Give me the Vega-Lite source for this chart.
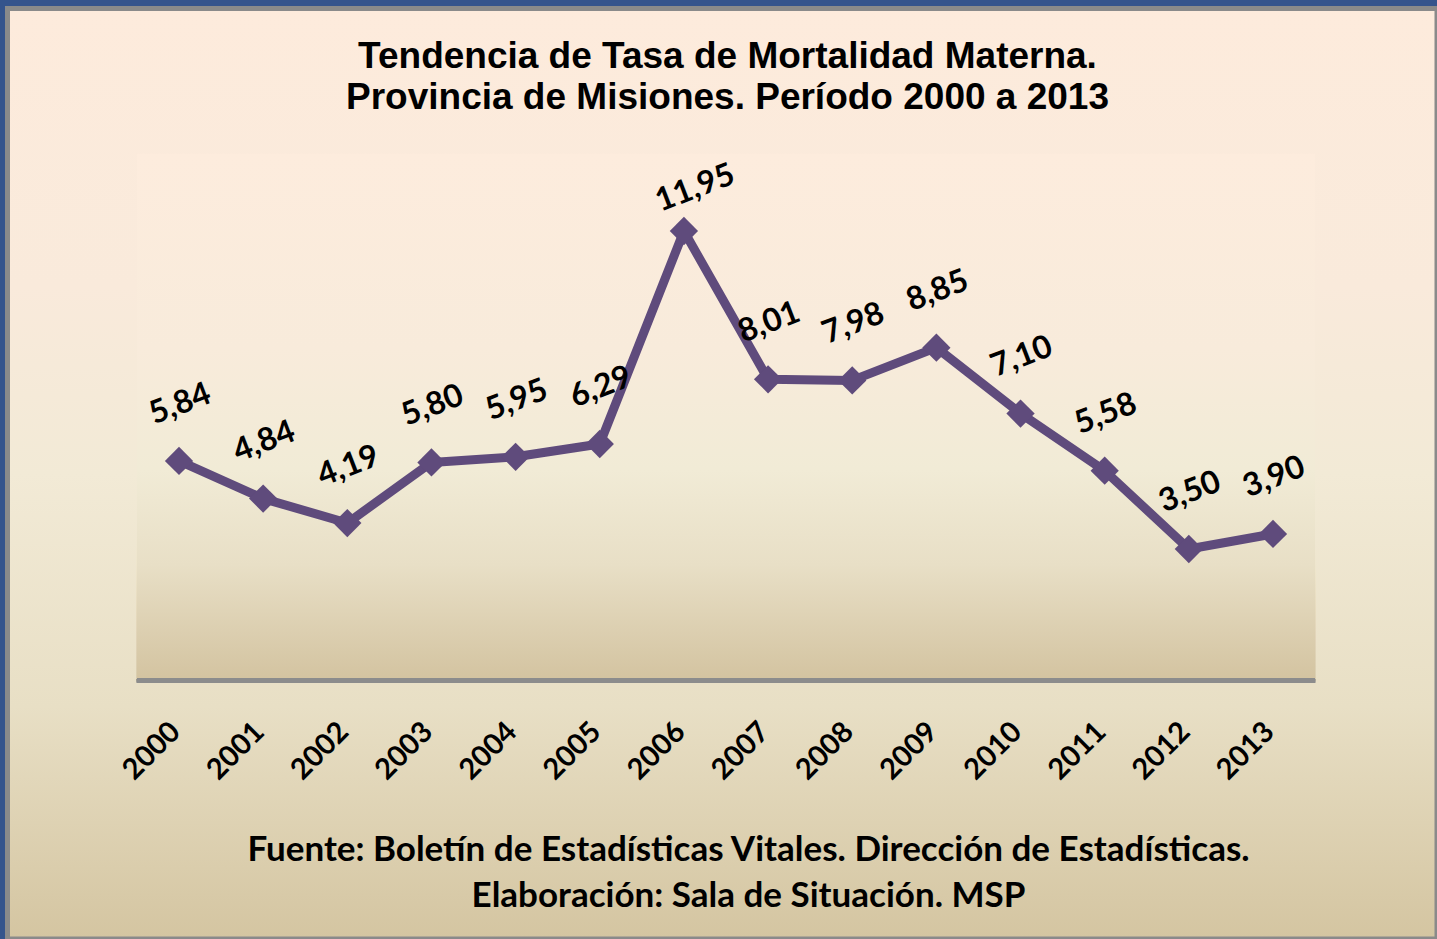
{
  "$schema": "https://vega.github.io/schema/vega-lite/v6.json",
  "width": 1437,
  "height": 939,
  "autosize": {"type": "fit", "contains": "padding"},
  "padding": {"left": 7.5, "top": 8.5, "right": 0, "bottom": 0},
  "background": "#35548c",
  "config": {
    "locale": {"number": {"decimal": ",", "thousands": ".", "grouping": [3], "currency": ["$", ""]}}
  },
  "view": {
    "stroke": "#8a8a8a",
    "strokeWidth": 5,
    "fill": {
      "gradient": "linear", "x1": 0, "y1": 0, "x2": 0, "y2": 1,
      "stops": [
        {"offset": 0, "color": "#fdebdc"},
        {"offset": 0.3, "color": "#f9eadb"},
        {"offset": 0.5, "color": "#f2ead6"},
        {"offset": 0.75, "color": "#e8dfc5"},
        {"offset": 1, "color": "#d4c5a1"}
      ]
    }
  },
  "data": {
    "values": [
      {"year": 2000, "rate": 5.84},
      {"year": 2001, "rate": 4.84},
      {"year": 2002, "rate": 4.19},
      {"year": 2003, "rate": 5.80},
      {"year": 2004, "rate": 5.95},
      {"year": 2005, "rate": 6.29},
      {"year": 2006, "rate": 11.95},
      {"year": 2007, "rate": 8.01},
      {"year": 2008, "rate": 7.98},
      {"year": 2009, "rate": 8.85},
      {"year": 2010, "rate": 7.10},
      {"year": 2011, "rate": 5.58},
      {"year": 2012, "rate": 3.50},
      {"year": 2013, "rate": 3.90}
    ]
  },
  "layer": [
    {
      "mark": {
        "type": "rect",
        "fill": {
          "gradient": "linear", "x1": 0, "y1": 0, "x2": 0, "y2": 1,
          "stops": [
            {"offset": 0, "color": "#fdecdd"},
            {"offset": 0.37, "color": "#f8ebdb"},
            {"offset": 0.6, "color": "#f1ebd6"},
            {"offset": 0.78, "color": "#e8dfc6"},
            {"offset": 1, "color": "#d3c3a0"}
          ]
        }
      },
      "encoding": {
        "x": {
          "datum": 1999.5,
          "type": "quantitative",
          "scale": {"domain": [1997.962, 2014.949], "nice": false, "zero": false},
          "axis": {
            "values": [2000, 2001, 2002, 2003, 2004, 2005, 2006, 2007, 2008, 2009, 2010, 2011, 2012, 2013],
            "format": "d",
            "offset": -258.3,
            "domain": false,
            "ticks": false,
            "grid": false,
            "labelAngle": -45,
            "labelAlign": "right",
            "labelBaseline": "middle",
            "labelPadding": 46,
            "labelOffset": -4,
            "labelFont": "Lato",
            "labelFontWeight": "bold",
            "labelFontSize": 29,
            "labelColor": "#000000",
            "labelOverlap": false,
            "labelFlush": false,
            "labelBound": false,
            "title": ["Fuente: Boletín de Estadísticas Vitales. Dirección de Estadísticas.", "Elaboración: Sala de Situación. MSP"],
            "titleFont": "Lato",
            "titleFontWeight": "bold",
            "titleFontSize": 35,
            "titleColor": "#000000",
            "titleX": 740.5,
            "titleY": 180,
            "titleAlign": "center",
            "titleBaseline": "alphabetic",
            "titleLineHeight": 46
          }
        },
        "x2": {"datum": 2013.5},
        "y": {
          "datum": 0,
          "type": "quantitative",
          "scale": {"domain": [-6.864, 17.863], "nice": false, "zero": false},
          "axis": {
            "domain": false,
            "ticks": false,
            "labels": false,
            "grid": false,
            "title": ["Tendencia de Tasa de Mortalidad Materna.", "Provincia de Misiones. Período 2000 a 2013"],
            "titleAngle": 0,
            "titleX": 719.5,
            "titleY": 58.8,
            "titleAlign": "center",
            "titleBaseline": "alphabetic",
            "titleFont": "Liberation Sans",
            "titleFontWeight": "bold",
            "titleFontSize": 37,
            "titleLineHeight": 41,
            "titleColor": "#000000"
          }
        },
        "y2": {"datum": 14}
      }
    },
    {
      "mark": {"type": "rule", "color": "#8c8c8c", "strokeWidth": 4},
      "encoding": {
        "x": {"datum": 1999.5, "type": "quantitative"},
        "x2": {"datum": 2013.5},
        "y": {"datum": 0, "type": "quantitative"}
      }
    },
    {
      "mark": {"type": "line", "color": "#5f4b7c", "strokeWidth": 9, "strokeJoin": "round"},
      "encoding": {
        "x": {"field": "year", "type": "quantitative"},
        "y": {"field": "rate", "type": "quantitative"}
      }
    },
    {
      "mark": {"type": "point", "shape": "diamond", "filled": true, "size": 800, "color": "#5f4b7c", "opacity": 1},
      "encoding": {
        "x": {"field": "year", "type": "quantitative"},
        "y": {"field": "rate", "type": "quantitative"}
      }
    },
    {
      "transform": [{"filter": "datum.year != 2006"}],
      "mark": {"type": "text", "font": "Lato", "fontWeight": "bold", "fontSize": 32, "color": "#000000", "angle": -21, "align": "center", "baseline": "middle", "dx": 21.4, "dy": -52.9},
      "encoding": {
        "x": {"field": "year", "type": "quantitative"},
        "y": {"field": "rate", "type": "quantitative"},
        "text": {"field": "rate", "type": "quantitative", "format": ".2f"}
      }
    },
    {
      "transform": [{"filter": "datum.year == 2006"}],
      "mark": {"type": "text", "font": "Lato", "fontWeight": "bold", "fontSize": 32, "color": "#000000", "angle": -21, "align": "center", "baseline": "middle", "dx": 26, "dy": -36.3},
      "encoding": {
        "x": {"field": "year", "type": "quantitative"},
        "y": {"field": "rate", "type": "quantitative"},
        "text": {"field": "rate", "type": "quantitative", "format": ".2f"}
      }
    }
  ]
}
